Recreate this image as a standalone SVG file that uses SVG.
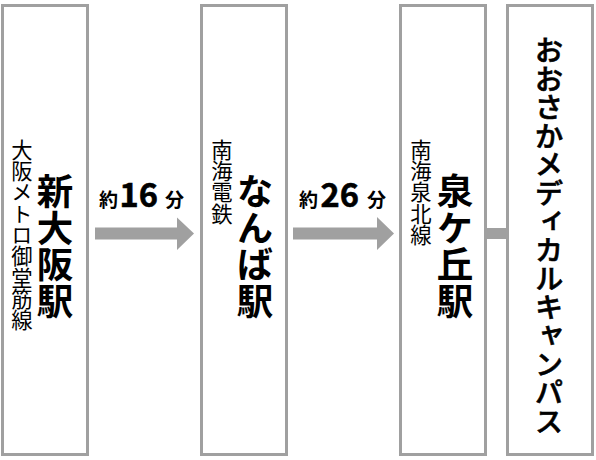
<svg xmlns="http://www.w3.org/2000/svg" width="596" height="460" viewBox="0 0 596 460">
<style>
.box{fill:#fff;stroke:#a0a0a0;stroke-width:3}
.arrow{fill:#a0a0a0}
text{font-family:"Noto Sans CJK JP","Noto Sans",sans-serif;fill:#000}
.v{writing-mode:vertical-rl}
.line{font-size:21.3px;font-weight:400}
.st{font-size:36.5px;font-weight:700}
.dest{font-size:28.5px;font-weight:500;stroke:#000;stroke-width:0.6}
.lab{font-weight:700}
.num{stroke:#000;stroke-width:0.6}
</style>
<rect width="596" height="460" fill="#fff"/>
<g id="connectors">
<polygon class="arrow" points="95,227.5 177,227.5 177,217.5 194,233.5 177,250 177,239.5 95,239.5"/>
<polygon class="arrow" points="293,227.5 377,227.5 377,217 394,233.5 377,250 377,239.5 293,239.5"/>
<rect class="arrow" x="486" y="228" width="22" height="11"/>
<text class="lab" y="207"><tspan x="99" font-size="19">約</tspan><tspan class="num" x="119.5" font-size="32.5">16</tspan><tspan x="165" font-size="19">分</tspan></text>
<text class="lab" y="207"><tspan x="299" font-size="19">約</tspan><tspan class="num" x="320.5" font-size="32.5">26</tspan><tspan x="367" font-size="19">分</tspan></text>
</g>
<g id="shin-osaka">
<rect class="box" x="2.5" y="5.5" width="85" height="449"/>
<text class="v line" x="22" y="139">大阪メトロ御堂筋線</text>
<text class="v st" x="55" y="173">新大阪駅</text>
</g>
<g id="namba">
<rect class="box" x="201.5" y="5.5" width="85" height="449"/>
<text class="v line" x="222" y="139">南海電鉄</text>
<text class="v st" x="255" y="173">なんば駅</text>
</g>
<g id="izumigaoka">
<rect class="box" x="400.5" y="5.5" width="85" height="449"/>
<text class="v line" x="421" y="139">南海泉北線</text>
<text class="v st" x="455" y="173">泉ケ丘駅</text>
</g>
<g id="campus">
<rect class="box" x="507.5" y="5.5" width="85" height="449"/>
<text class="v dest" x="549" y="36">おおさかメディカルキャンパス</text>
</g>
</svg>
